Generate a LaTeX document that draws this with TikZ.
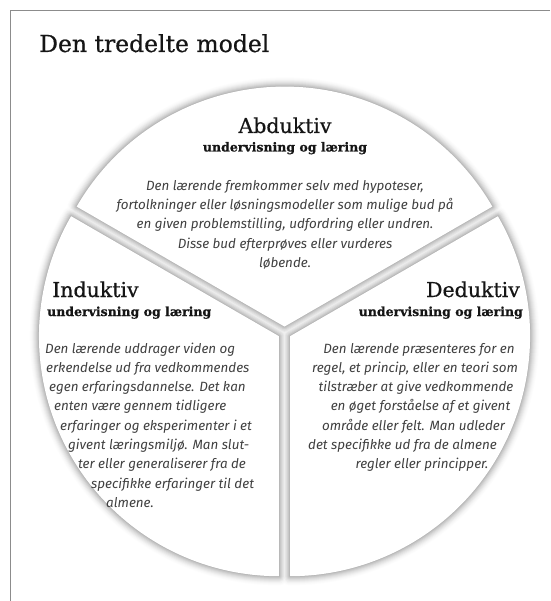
\documentclass[tikz,border=0pt]{standalone}
\usepackage{fontspec}
\newfontfamily\headfont[FakeBold=0.6]{DejaVu Serif}
\newfontfamily\bodyfont{Fira Sans}
\definecolor{framegray}{HTML}{8C8C8C}
\definecolor{bodygray}{HTML}{404040}
\definecolor{headblack}{HTML}{151515}
\begin{document}
\begin{tikzpicture}[x=1pt,y=-1pt,
  wedge/.style={fill=white, draw=none},
  shadowlayer/.style={fill=black!#1, draw=black!#1, line join=round, shift={(1.5,5.5)}},
  titletext/.style={inner sep=0pt, anchor=base west, font=\headfont\fontsize{23.5}{28}\selectfont, text=headblack},
  headline/.style={inner sep=0pt, font=\headfont\fontsize{20.5}{24}\selectfont, text=headblack},
  subline/.style={inner sep=0pt, font=\headfont\bfseries\fontsize{12.5}{15}\selectfont, text=headblack},
  bodyline/.style={inner sep=0pt, font=\bodyfont\itshape\fontsize{13.4}{17}\selectfont, text=bodygray},
]
\useasboundingbox (0,0) rectangle (550,601);
\fill[white] (0,0) rectangle (550,601);
\draw[framegray, line width=1pt] (550,10.5) -- (10.5,10.5) -- (10.5,601);

\coordinate (A) at (284.5,326.6);
\coordinate (D) at (290.04,336.2);
\coordinate (I) at (278.96,336.2);
% soft drop shadows, drawn from the outermost (lightest) layer inwards
\foreach \rr/\dk in {9/1, 8/2.5, 7/4.5, 6/7, 5/10, 4/13.5, 3/17.5, 2/22, 1/27, 0.1/31} {
  \foreach \ap/\sa in {A/210, I/90, D/-30} {
    \path[shadowlayer=\dk, line width=\rr*2pt] (\ap) -- ++(\sa:240) arc[start angle=\sa, delta angle=120, radius=240] -- cycle;
  }
}
\foreach \ap/\sa in {A/210, I/90, D/-30} {
  \path[wedge] (\ap) -- ++(\sa:240) arc[start angle=\sa, delta angle=120, radius=240] -- cycle;
}

\node[titletext] (title) at (39,52) {Den tredelte model};

\node[headline, anchor=base] (abh) at (285,133) {Abduktiv};
\node[subline, anchor=base] (abs) at (285,151.5) {undervisning og læring};
\node[bodyline, anchor=base] (ab1) at (285,191) {Den lærende fremkommer selv med hypoteser,};
\node[bodyline, anchor=base] (ab2) at (285,210) {fortolkninger eller løsningsmodeller som mulige bud på};
\node[bodyline, anchor=base] (ab3) at (285,229) {en given problemstilling, udfordring eller undren.};
\node[bodyline, anchor=base] (ab4) at (285,248) {Disse bud efterprøves eller vurderes};
\node[bodyline, anchor=base] (ab5) at (285,267) {løbende.};

\node[headline, anchor=base west] (inh) at (52,297) {Induktiv};
\node[subline, anchor=base west] (ins) at (47,316) {undervisning og læring};
\node[bodyline, anchor=base west] (in1) at (45,353) {Den lærende uddrager viden og};
\node[bodyline, anchor=base west] (in2) at (46,372.3) {erkendelse ud fra vedkommendes};
\node[bodyline, anchor=base west] (in3) at (49,391.6) {egen erfaringsdannelse. Det kan};
\node[bodyline, anchor=base west] (in4) at (54,410.9) {enten være gennem tidligere};
\node[bodyline, anchor=base west] (in5) at (60,430.2) {erfaringer og eksperimenter i et};
\node[bodyline, anchor=base west] (in6) at (68,449.5) {givent læringsmiljø. Man slut-};
\node[bodyline, anchor=base west] (in7) at (78,468.8) {ter eller generaliserer fra de};
\node[bodyline, anchor=base west] (in8) at (91,488.1) {specifikke erfaringer til det};
\node[bodyline, anchor=base west] (in9) at (106,507.4) {almene.};

\node[headline, anchor=base east] (deh) at (520,297) {Deduktiv};
\node[subline, anchor=base east] (des) at (523,316) {undervisning og læring};
\node[bodyline, anchor=base] (de1) at (419,353) {Den lærende præsenteres for en};
\node[bodyline, anchor=base] (de2) at (415,372.3) {regel, et princip, eller en teori som};
\node[bodyline, anchor=base] (de3) at (416,391.6) {tilstræber at give vedkommende};
\node[bodyline, anchor=base] (de4) at (420.5,410.9) {en øget forståelse af et givent};
\node[bodyline, anchor=base] (de5) at (413.5,430.2) {område eller felt. Man udleder};
\node[bodyline, anchor=base] (de6) at (402.5,449.5) {det specifikke ud fra de almene};
\node[bodyline, anchor=base] (de7) at (422,468.8) {regler eller principper.};
\end{tikzpicture}
\end{document}
